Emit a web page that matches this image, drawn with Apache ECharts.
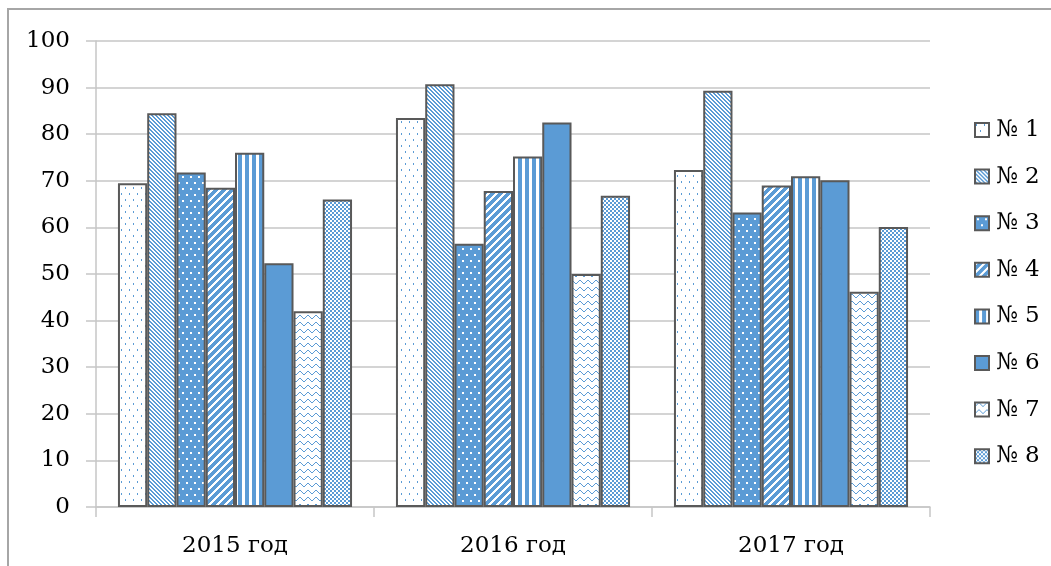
<!DOCTYPE html>
<html>
<head>
<meta charset="utf-8">
<script src="https://cdn.jsdelivr.net/npm/echarts@6/dist/echarts.min.js"></script>
<style>
  html, body { margin: 0; padding: 0; background: #ffffff; }
  #chart { width: 1051px; height: 566px; }
</style>
</head>
<body>
<div id="chart"></div>
<script>
// Categories (years) and the eight series values
const years = ['2015 год', '2016 год', '2017 год'];
const seriesNames = ['№ 1', '№ 2', '№ 3', '№ 4', '№ 5', '№ 6', '№ 7', '№ 8'];
const s1 = [69.5, 83.5, 72.3];
const s2 = [84.5, 90.7, 89.3];
const s3 = [71.8, 56.5, 63.2];
const s4 = [68.5, 67.8, 69.0];
const s5 = [76.0, 75.2, 71.0];
const s6 = [52.3, 82.5, 70.1];
const s7 = [42.0, 50.0, 46.2];
const s8 = [66.0, 66.8, 60.1];
const seriesValues = [s1, s2, s3, s4, s5, s6, s7, s8];
const yTicks = { min: 0, max: 100, interval: 10 };

const BLUE = '#5B9BD5';
const WHITE = '#ffffff';

// Build a small canvas tile and paint it pixel by pixel
function tile(w, h, bg, paint) {
  const c = document.createElement('canvas');
  c.width = w; c.height = h;
  const g = c.getContext('2d');
  g.fillStyle = bg; g.fillRect(0, 0, w, h);
  g.fillStyle = bg === WHITE ? BLUE : WHITE;
  paint(g, w, h);
  return { image: c, repeat: 'repeat' };
}

const fills = [
  // sparse dots on white
  tile(8, 12, WHITE, g => { g.fillRect(1, 1, 1, 2); g.fillRect(5, 7, 1, 2); }),
  // narrow downward diagonal
  tile(4, 4, WHITE, (g, w, h) => {
    for (let y = 0; y < h; y++) for (let x = 0; x < w; x++)
      if (((x - y) % 4 + 4) % 4 < 2) g.fillRect(x, y, 1, 1);
  }),
  // white dots on blue
  tile(8, 12, BLUE, g => { g.fillRect(2, 2, 2, 2); g.fillRect(6, 8, 2, 2); }),
  // wide upward diagonal, white stripes on blue
  tile(8, 8, BLUE, (g, w, h) => {
    for (let y = 0; y < h; y++) for (let x = 0; x < w; x++)
      if ((x + y) % 8 < 3) g.fillRect(x, y, 1, 1);
  }),
  // vertical stripes
  tile(7, 4, WHITE, g => { g.fillRect(0, 0, 4, 4); }),
  // solid
  BLUE,
  // zigzag
  tile(8, 7, WHITE, g => {
    const off = [3, 2, 1, 0, 0, 1, 2, 3];
    off.forEach((o, x) => g.fillRect(x, o, 1, 1));
  }),
  // small checkerboard
  tile(4, 4, WHITE, g => { g.fillRect(0, 0, 2, 2); g.fillRect(2, 2, 2, 2); })
];

const FONT = 'DejaVu Serif';

const chart = echarts.init(document.getElementById('chart'), null, { renderer: 'canvas' });

chart.setOption({
  animation: false,
  backgroundColor: '#ffffff',
  graphic: [{
    type: 'rect',
    shape: { x: 8, y: 9, width: 1100, height: 600 },
    style: { fill: 'none', stroke: '#a6a6a6', lineWidth: 2 },
    silent: true,
    z: 0
  }],
  grid: { left: 96, right: 121, top: 41, bottom: 59, containLabel: false },
  legend: {
    orient: 'vertical',
    left: 969,
    top: 113,
    icon: 'rect',
    itemWidth: 14,
    itemHeight: 14,
    itemGap: 22.6,
    textStyle: { fontFamily: FONT, fontSize: 23, color: '#000000', lineHeight: 24, padding: [0, 0, 0, 2] },
    data: seriesNames
  },
  xAxis: {
    type: 'category',
    data: years,
    axisLine: { show: true, lineStyle: { color: '#c6c6c6', width: 1.5 } },
    axisTick: { show: true, length: 10, lineStyle: { color: '#c6c6c6', width: 1.5 } },
    axisLabel: { margin: 28, fontFamily: FONT, fontSize: 23, color: '#000000' },
    splitLine: { show: false }
  },
  yAxis: {
    type: 'value',
    min: yTicks.min,
    max: yTicks.max,
    interval: yTicks.interval,
    axisLine: { show: true, lineStyle: { color: '#c6c6c6', width: 1.5 } },
    axisTick: { show: true, length: 10, lineStyle: { color: '#c6c6c6', width: 1.5 } },
    axisLabel: { margin: 26, fontFamily: FONT, fontSize: 23, color: '#000000' },
    splitLine: { show: true, lineStyle: { color: '#c6c6c6', width: 1.5 } }
  },
  series: seriesNames.map((name, i) => ({
    name: name,
    type: 'bar',
    data: seriesValues[i],
    barGap: '0%',
    barCategoryGap: '15.8%',
    itemStyle: { color: fills[i], borderColor: '#595959', borderWidth: 2 }
  }))
});
</script>
</body>
</html>
